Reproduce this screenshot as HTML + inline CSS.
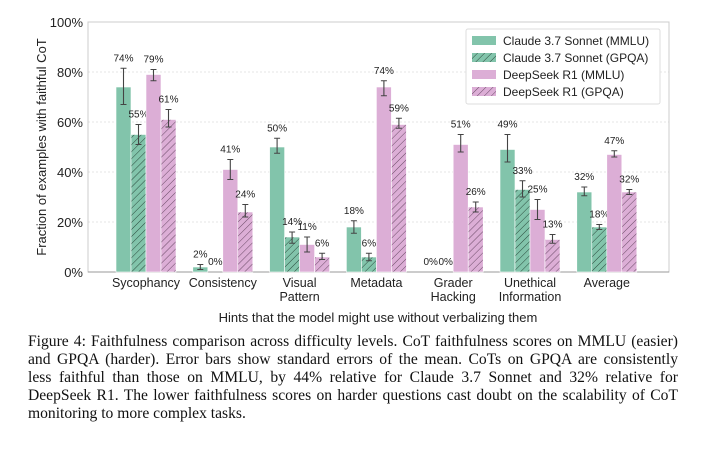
<!DOCTYPE html>
<html><head><meta charset="utf-8">
<style>
body{margin:0;background:#fff;width:703px;height:449px;overflow:hidden;position:relative;font-family:"Liberation Sans",sans-serif}
#cap{position:absolute;left:28px;top:333px;width:650px;font-family:"Liberation Serif",serif;font-size:15.6px;line-height:18px;color:#111}
#cap .j{text-align:justify;text-align-last:justify;white-space:nowrap}
</style></head><body>
<svg id="chart" width="703" height="330" style="position:absolute;left:0;top:0">
<defs>
<pattern id="hg" patternUnits="userSpaceOnUse" width="5" height="5" patternTransform="rotate(45)"><rect width="5" height="5" fill="#82c4ab"/><line x1="0" y1="0" x2="0" y2="5" stroke="#2a4a3c" stroke-width="1"/></pattern>
<pattern id="hp" patternUnits="userSpaceOnUse" width="5" height="5" patternTransform="rotate(45)"><rect width="5" height="5" fill="#dcaed6"/><line x1="0" y1="0" x2="0" y2="5" stroke="#6a4a66" stroke-width="1"/></pattern>
</defs>
<g id="grid"></g><g id="bars"></g>
</svg>
<div id="cap"><div class="j">Figure 4: Faithfulness comparison across difficulty levels. CoT faithfulness scores on MMLU (easier)</div><div class="j">and GPQA (harder). Error bars show standard errors of the mean. CoTs on GPQA are consistently</div><div class="j">less faithful than those on MMLU, by 44% relative for Claude 3.7 Sonnet and 32% relative for</div><div class="j">DeepSeek R1. The lower faithfulness scores on harder questions cast doubt on the scalability of CoT</div><div>monitoring to more complex tasks.</div></div>
<script>
const categories=[["Sycophancy"],["Consistency"],["Visual","Pattern"],["Metadata"],["Grader","Hacking"],["Unethical","Information"],["Average"]];
const seriesNames=["Claude 3.7 Sonnet (MMLU)","Claude 3.7 Sonnet (GPQA)","DeepSeek R1 (MMLU)","DeepSeek R1 (GPQA)"];
const claudeMMLU=[74,2,50,18,0,49,32];
const claudeGPQA=[55,0,14,6,0,33,18];
const r1MMLU=[79,41,11,74,51,25,47];
const r1GPQA=[61,24,6,59,26,13,32];
const errLo=[[67,1,47.5,15.5,0,44,30.5],[51,0,11.5,4.5,0,30,17],[76.5,37,8,70.5,48,21,46],[58,22,5,57.5,24,11.5,31]];
const errHi=[[81.5,3,53.5,20.5,0,55,34],[59,0,16,7.5,0,36.5,19],[81,45,14,76.5,55,29,48.5],[65,27,7.5,61.5,28,15,33]];
const yTicks=[0,20,40,60,80,100];
const series=[claudeMMLU,claudeGPQA,r1MMLU,r1GPQA];
const fills=["#82c4ab","url(#hg)","#dcaed6","url(#hp)"];
const NS="http://www.w3.org/2000/svg";
const X0=88,X1=669,Y0=272,Y1=22;
const y=v=>Y0-(v/100)*(Y0-Y1);
const cx=i=>146+i*76.8;
const BW=15;
function mk(t,a,p){const e=document.createElementNS(NS,t);for(const k in a)e.setAttribute(k,a[k]);(p||document.getElementById('chart')).appendChild(e);return e;}
const grid=document.getElementById('grid'),bars=document.getElementById('bars');
yTicks.forEach(t=>{
 if(t>0&&t<100){const l=mk('line',{x1:X0,x2:X1,y1:y(t),y2:y(t),stroke:'#ddd','stroke-dasharray':'2,2','stroke-width':0.8},grid);
 
 }
 const tk=mk('text',{x:X0-5,y:y(t)+5,'text-anchor':'end','font-size':13,fill:'#222'},grid);tk.textContent=t+'%';
 
 
});
const fr=mk('rect',{x:X0,y:Y1,width:X1-X0,height:Y0-Y1,fill:'none',stroke:'#ccc','stroke-width':1},grid);


const ax=mk('line',{x1:X0,x2:X1,y1:Y0,y2:Y0,stroke:'#999'},grid);


categories.forEach((c,i)=>{
 series.forEach((s,j)=>{
  const x=cx(i)-2*BW+j*BW, v=s[i];
  const r=mk('rect',{x:x,y:y(v),width:BW,height:Y0-y(v),fill:fills[j],stroke:'#fff','stroke-width':0.6},bars);
  
  
  const m=x+BW/2;
  if(errHi[j][i]>errLo[j][i]){
   const e=mk('path',{d:`M${m},${y(errLo[j][i])}V${y(errHi[j][i])}M${m-3},${y(errLo[j][i])}h6M${m-3},${y(errHi[j][i])}h6`,stroke:'#444','stroke-width':1.1,fill:'none'},bars);
   
   
  }
  const lt=mk('text',{x:m,y:y(Math.max(v,errHi[j][i]))-7,'text-anchor':'middle','font-size':10,fill:'#222'},bars);
  lt.textContent=v+'%';
  
  
 });
 c.forEach((w,k)=>{const t=mk('text',{x:cx(i),y:287+k*14,'text-anchor':'middle','font-size':12.5,fill:'#222'},grid);t.textContent=w;
 
 });
});
const yt=mk('text',{x:0,y:0,transform:'translate(46,147) rotate(-90)','text-anchor':'middle','font-size':13,fill:'#222'});
yt.textContent='Fraction of examples with faithful CoT';


const xt=mk('text',{x:378,y:322,'text-anchor':'middle','font-size':13,fill:'#222'});
xt.textContent='Hints that the model might use without verbalizing them';


const lg=mk('g',{});


mk('rect',{x:466,y:29,width:194,height:75,fill:'#fff',stroke:'#ddd',rx:2},lg);
seriesNames.forEach((n,j)=>{
 const yy=36+j*17;
 const sw=mk('rect',{x:472,y:yy,width:24,height:9,fill:fills[j]},lg);
 
 
 const t=mk('text',{x:503,y:yy+9,'font-size':12,fill:'#222'},lg);t.textContent=n;
 
 
});
</script>
</body></html>
